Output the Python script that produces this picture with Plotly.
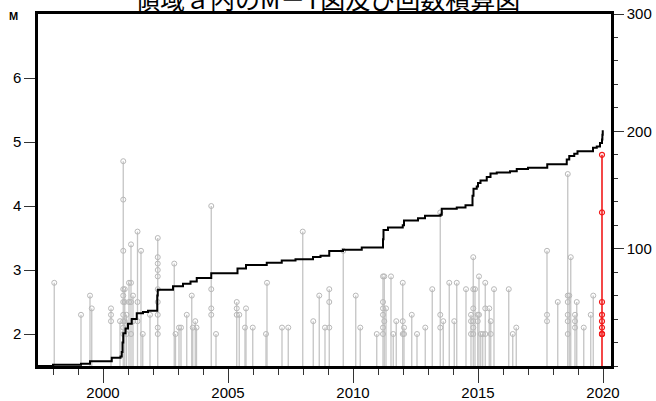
import plotly.graph_objects as go

# ---- data ----
# gray events: (decimal year, list of magnitudes at that time)
event_years = [1998.05, 1999.12, 1999.48, 1999.55, 2000.32, 2000.68, 2000.81, 2000.87, 2000.94,
               2001.04, 2001.12, 2001.20, 2001.38, 2001.52, 2001.59, 2001.88, 2002.19, 2002.85,
               2002.90, 2003.04, 2003.12, 2003.35, 2003.55, 2003.59, 2003.69, 2003.74, 2004.33,
               2004.52, 2005.35, 2005.45, 2005.68, 2005.72, 2005.99, 2006.52, 2006.56, 2007.16,
               2007.41, 2007.99, 2008.41, 2008.65, 2008.88, 2009.05, 2009.61, 2010.11, 2010.29,
               2010.95, 2011.20, 2011.25, 2011.32, 2011.52, 2011.61, 2011.73, 2011.99, 2012.04,
               2012.35, 2012.56, 2012.89, 2013.17, 2013.49, 2013.61, 2013.85, 2014.05, 2014.15,
               2014.52, 2014.72, 2014.81, 2014.88, 2014.99, 2015.04, 2015.11, 2015.19, 2015.29,
               2015.45, 2015.51, 2015.64, 2016.23, 2016.39, 2016.53, 2017.76, 2018.19, 2018.59,
               2018.65, 2018.71, 2018.88, 2018.95, 2019.23, 2019.51, 2019.61]
event_mags = [[2.8], [2.3], [2.6], [2.4], [2.4, 2.3, 2.2], [2.2],
              [4.7, 4.1, 3.3, 2.7, 2.6, 2.5, 2.3, 2.2, 2.1, 2.0], [2.7, 2.5, 2.2], [2.3, 2.0],
              [2.8, 2.5], [3.4, 2.8, 2.5, 2.0], [2.6, 2.2], [3.6, 2.5, 2.2], [3.3], [2.0], [2.3],
              [3.5, 3.2, 3.1, 3.0, 2.9, 2.7, 2.5, 2.3, 2.1, 2.0], [3.1],
              [2.0], [2.1], [2.1], [2.3], [2.6], [2.1], [2.2], [2.1], [4.0, 2.7, 2.4, 2.3],
              [2.0], [2.5, 2.4, 2.3], [2.3], [2.1], [2.4], [2.1], [2.0], [2.8], [2.1],
              [2.1], [3.6], [2.2], [2.6], [2.1], [2.7, 2.5, 2.1], [3.3], [2.6], [2.1],
              [2.0], [2.9, 2.5, 2.4, 2.3, 2.1, 2.0], [2.9, 2.2], [2.4], [2.9], [2.0], [2.2],
              [2.8, 2.2, 2.0], [2.1, 2.0],
              [2.3], [2.0], [2.1], [2.7], [3.9, 2.3, 2.1], [2.2], [2.8], [2.2], [2.8],
              [2.7], [2.3, 2.2, 2.0], [3.2, 2.7, 2.4, 2.2, 2.1, 2.0], [2.7], [2.3, 2.2], [2.9, 2.3],
              [2.0], [2.0], [2.8, 2.4, 2.0],
              [2.4], [2.2, 2.0], [2.7], [2.7], [2.0], [2.1], [3.3, 2.3, 2.2], [2.5],
              [4.5, 2.6, 2.5, 2.3, 2.2, 2.0],
              [2.6], [3.2], [2.3, 2.2, 2.1], [2.5], [2.1], [2.3], [2.6]]

# recent (red) events
red_year = 2019.96
red_mags = [4.8, 3.9, 2.5, 2.3, 2.2, 2.1, 2.0, 2.0, 2.0]

# cumulative number of events (right axis)
cum_years = [1997.40, 1998.00, 1999.12, 1999.48, 2000.35, 2000.70, 2000.75, 2000.78, 2000.81,
             2000.90, 2001.00, 2001.15, 2001.35, 2001.60, 2001.80, 2002.17, 2002.19, 2002.80,
             2003.20, 2003.50, 2003.75, 2004.33, 2005.38, 2005.72, 2006.55, 2007.15, 2007.70,
             2008.40, 2008.70, 2009.05, 2009.60, 2010.35, 2011.20, 2011.22, 2011.40, 2011.99,
             2012.04, 2012.60, 2012.88, 2013.50, 2013.55, 2014.15, 2014.50, 2014.78, 2014.82,
             2014.95, 2015.00, 2015.10, 2015.35, 2015.50, 2015.75, 2016.28, 2016.55, 2017.00,
             2017.77, 2018.55, 2018.65, 2018.85, 2018.98, 2019.60, 2019.75, 2019.88, 2019.96,
             2019.975, 2019.99]
cum_counts = [0, 1, 2, 4, 7, 8, 12, 20, 28,
              32, 36, 40, 45, 46, 47, 60, 65, 68,
              70, 72, 75, 79, 83, 86, 88, 90, 91,
              93, 94, 98, 99, 101, 108, 116, 118, 120,
              124, 126, 128, 129, 134, 135, 137, 145, 151,
              153, 156, 158, 161, 164, 165, 166, 168, 169,
              172, 176, 179, 181, 183, 186, 187, 190, 193,
              197, 201]

TITLE = "領域ａ内のM－T図及び回数積算図"

# ---- build figure ----
M_BASE = 1.5
gray = "#c4c4c4"
red = "#f21a1a"

stem_x, stem_y, pt_x, pt_y = [], [], [], []
for yr, mags in zip(event_years, event_mags):
    stem_x += [yr, yr, None]
    stem_y += [M_BASE, max(mags), None]
    for m in mags:
        pt_x.append(yr)
        pt_y.append(m)

fig = go.Figure()
fig.add_trace(go.Scatter(x=stem_x, y=stem_y, mode="lines",
                         line=dict(color=gray, width=1.3), hoverinfo="skip", showlegend=False))
fig.add_trace(go.Scatter(x=pt_x, y=pt_y, mode="markers",
                         marker=dict(symbol="circle-open", size=5, color="#b8b8b8",
                                     line=dict(width=1, color="#b8b8b8")),
                         showlegend=False))
fig.add_trace(go.Scatter(x=[red_year, red_year], y=[M_BASE, max(red_mags)], mode="lines",
                         line=dict(color=red, width=1.6), showlegend=False))
fig.add_trace(go.Scatter(x=[red_year] * len(red_mags), y=red_mags, mode="markers",
                         marker=dict(symbol="circle-open", size=5, color=red,
                                     line=dict(width=1.2, color=red)),
                         showlegend=False))
fig.add_trace(go.Scatter(x=cum_years, y=cum_counts, mode="lines", yaxis="y2",
                         line=dict(color="black", width=2, shape="hv"), showlegend=False))

tickfont = dict(family="Liberation Sans", size=15, color="black")

fig.update_layout(
    width=656, height=401,
    margin=dict(l=38, r=45, t=14, b=35),
    paper_bgcolor="white", plot_bgcolor="white",
    xaxis=dict(range=[1997.4, 2020.32], showgrid=False, zeroline=False, automargin=False,
               showline=True, linecolor="black", linewidth=2.5, mirror=True,
               ticks="outside", tick0=2000, dtick=5, ticklen=14, tickwidth=1.2,
               tickcolor="#333", tickfont=tickfont, ticklabelstandoff=-3,
               minor=dict(ticks="outside", dtick=1, tick0=2000, ticklen=6,
                          tickwidth=1.2, tickcolor="#333", showgrid=False)),
    yaxis=dict(range=[1.5, 7], showgrid=False, zeroline=False, automargin=False,
               showline=True, linecolor="black", linewidth=2.5,
               tickvals=[2, 3, 4, 5, 6], ticks="outside", ticklen=11, tickwidth=1.2,
               tickcolor="#333", tickfont=tickfont),
    yaxis2=dict(range=[0, 300], overlaying="y", side="right", showgrid=False,
                zeroline=False, showline=True, linecolor="black", linewidth=2.5,
                automargin=False,
                tickvals=[100, 200, 300], ticks="outside", ticklen=10, tickwidth=1.2,
                tickcolor="#333", tickfont=tickfont,
                minor=dict(ticks="outside", dtick=20, tick0=0, ticklen=4,
                           tickwidth=1, tickcolor="#333", showgrid=False)),
    annotations=[
        dict(text=TITLE, xref="paper", yref="paper", x=0.505, y=1.0,
             xanchor="center", yanchor="bottom", yshift=-4, showarrow=False,
             font=dict(family="Noto Sans CJK JP", size=25, color="black")),
        dict(text="<b>M</b>", xref="paper", yref="paper", x=0, y=1.0,
             xanchor="right", yanchor="middle", xshift=-18, yshift=-2, showarrow=False,
             font=dict(family="Liberation Sans", size=11, color="black")),
    ],
)

# remove the default page margin so the figure sits at the window's top-left corner
fig.write_html("out.html", config={"displayModeBar": False},
               post_script="document.body.style.margin='0';")
